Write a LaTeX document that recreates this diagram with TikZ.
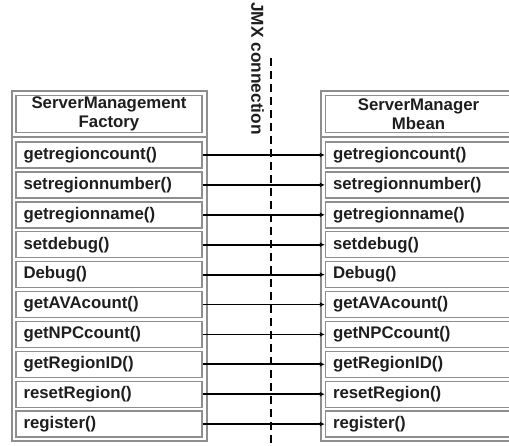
\documentclass[tikz,border=0pt]{standalone}
\usepackage{fontspec}
\setmainfont{Liberation Sans}
\usetikzlibrary{arrows.meta}
\definecolor{framegray}{HTML}{8E8E8E}
\definecolor{inkdark}{HTML}{1E1E1E}
\begin{document}
\begin{tikzpicture}[x=1pt,y=-1pt,
  frame/.style={draw=framegray,line width=1.4pt},
  headbox/.style={frame,minimum width=186pt,minimum height=37pt,inner sep=0pt,
    align=center,font=\fontsize{16.8}{19}\selectfont\bfseries,text=inkdark},
  methbox/.style={frame,minimum width=186pt,minimum height=26pt,inner xsep=7.5pt,inner ysep=0pt,
    text width=171pt,align=left,font=\fontsize{16.8}{19}\selectfont\bfseries,text=inkdark},
  conn/.style={draw=black,line width=1.8pt,-{Latex[length=5pt,width=5pt]}},
  jmxline/.style={draw=black,line width=2pt,dash pattern=on 8pt off 5pt}]
\useasboundingbox (0,0) rectangle (509,445);

% outer frames with header separators
\draw[frame] (12,91) rectangle (207,441);
\draw[frame] (12,137) -- (207,137);
\draw[frame] (321,91) rectangle (516,441);
\draw[frame] (321,137) -- (516,137);

% class headers
\node[headbox] (LH) at (109,114) {ServerManagement\\Factory};
\node[headbox] (RH) at (418.5,114) {ServerManager\\Mbean};

% method boxes on both sides and the calls between them
\foreach \i/\m in {0/getregioncount(),1/setregionnumber(),2/getregionname(),3/setdebug(),
    4/Debug(),5/getAVAcount(),6/getNPCcount(),7/getRegionID(),8/resetRegion(),9/register()}{
  \node[methbox] (L\i) at (109,{155+29.9*\i}) {\m};
  \node[methbox] (R\i) at (418.5,{155+29.9*\i}) {\m};
  \draw[conn] (L\i.east) -- (R\i.west);
}

% JMX connection boundary
\coordinate (jtop) at (271,58);
\coordinate (jbot) at (271,446);
\draw[jmxline] (jtop) -- (jbot);
\node[rotate=-90,anchor=south west,inner sep=0pt,font=\fontsize{17.3}{19}\selectfont\bfseries,text=inkdark]
  (JMX) at (251,2) {JMX connection};
\end{tikzpicture}
\end{document}
